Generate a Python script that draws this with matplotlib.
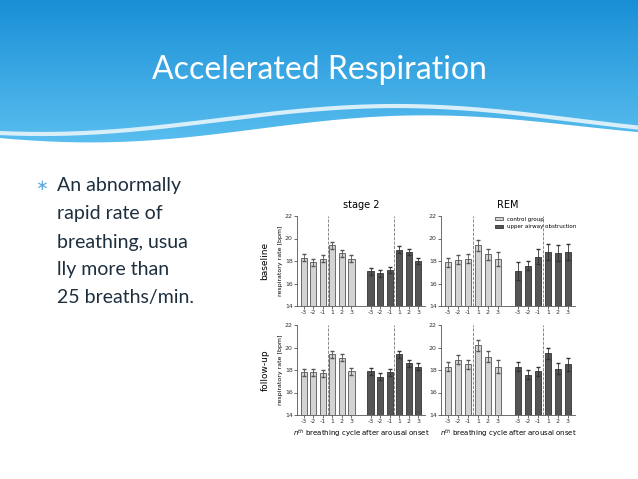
import matplotlib
matplotlib.use("Agg")
import matplotlib.pyplot as plt
import numpy as np

# ---- data (respiratory rate, bpm) ----
cycles = ["-3", "-2", "-1", "1", "2", "3"]
base_s2_ctrl = [18.3, 17.9, 18.2, 19.4, 18.7, 18.2]
base_s2_uao = [17.1, 16.9, 17.2, 19.0, 18.8, 18.0]
base_rem_ctrl = [17.9, 18.1, 18.2, 19.4, 18.6, 18.2]
base_rem_uao = [17.1, 17.6, 18.4, 18.8, 18.7, 18.8]
fu_s2_ctrl = [17.8, 17.8, 17.7, 19.4, 19.1, 17.9]
fu_s2_uao = [17.9, 17.4, 17.8, 19.4, 18.6, 18.3]
fu_rem_ctrl = [18.3, 18.9, 18.5, 20.2, 19.2, 18.3]
fu_rem_uao = [18.3, 17.6, 17.9, 19.5, 18.1, 18.5]
err_s2 = [0.3, 0.3, 0.3, 0.3, 0.3, 0.3]
err_rem_base_uao = [0.8, 0.4, 0.7, 0.7, 0.7, 0.7]
err_rem = [0.4, 0.4, 0.4, 0.5, 0.5, 0.6]

W, H = 638, 479
fig = plt.figure(figsize=(W / 100, H / 100), dpi=100)

# ---- slide background / header ----
bg = fig.add_axes([0, 0, 1, 1])
bg.set_xlim(0, W)
bg.set_ylim(H, 0)
bg.axis("off")
grad = np.linspace(0, 1, 100)[:, None]
cmap = matplotlib.colors.LinearSegmentedColormap.from_list("hdr", ["#1a8fd6", "#5cc0f0"])
bg.imshow(grad, extent=[0, W, 150, 0], cmap=cmap, aspect="auto", zorder=0)
xs = np.linspace(0, W, 200)
wave = 132 + 12 * np.sin((xs / W) * 2 * np.pi * 1.0 + 0.6) - 6 * (xs / W)
bg.fill_between(xs, wave, 160, color="white", zorder=1)
wave2 = 120 + 14 * np.sin((xs / W) * 2 * np.pi * 0.9 + 1.2)
bg.plot(xs, wave2, color="#d8eef9", lw=3, zorder=1)
bg.text(319, 70, "Accelerated Respiration", color="white", fontsize=23,
        ha="center", va="center", family="Lato")
bullet = ["An abnormally", "rapid rate of", "breathing, usua", "lly more than", "25 breaths/min."]
bg.text(35, 186, "\u2217", color="#5aa9d6", fontsize=11, va="center")
for i, line in enumerate(bullet):
    bg.text(57, 186 + i * 28, line, color="#1d2f3f", fontsize=14, va="center", family="Lato")

# ---- chart panels ----
def panel(rect, ctrl, uao, ectrl, euao, ylab=None, title=None, xlab=False, legend=False):
    ax = fig.add_axes([rect[0] / W, 1 - (rect[1] + rect[3]) / H, rect[2] / W, rect[3] / H])
    x1 = np.arange(6)
    x2 = np.arange(6) + 7
    ax.bar(x1, [v - 14 for v in ctrl], bottom=14, width=0.65, color="#d3d3d3",
           edgecolor="#555555", lw=0.6, yerr=ectrl, error_kw=dict(lw=0.6, capsize=1.5, ecolor="#555555"),
           label="control group")
    ax.bar(x2, [v - 14 for v in uao], bottom=14, width=0.65, color="#555555",
           edgecolor="#333333", lw=0.6, yerr=euao, error_kw=dict(lw=0.6, capsize=1.5, ecolor="#333333"),
           label="upper airway obstruction")
    for xv in (2.5, 9.5):
        ax.axvline(xv, color="#777777", lw=0.6, ls="--")
    ax.set_ylim(14, 22)
    ax.set_xlim(-0.7, 12.7)
    ax.set_yticks([14, 16, 18, 20, 22])
    ax.set_xticks(list(x1) + list(x2))
    ax.set_xticklabels(cycles + cycles)
    ax.tick_params(labelsize=4.5, length=2, width=0.5, pad=1, colors="#333333")
    for s in ("top", "right"):
        ax.spines[s].set_visible(False)
    for s in ("left", "bottom"):
        ax.spines[s].set_linewidth(0.6)
        ax.spines[s].set_color("#555555")
    ax.patch.set_alpha(0)
    if ylab:
        ax.set_ylabel("respiratory rate [bpm]", fontsize=4.5, labelpad=1)
        ax.text(-0.25, 0.5, ylab, transform=ax.transAxes, rotation=90, fontsize=6.5,
                ha="center", va="center")
    if title:
        ax.set_title(title, fontsize=7, pad=6)
    if xlab:
        ax.set_xlabel("$n^{th}$ breathing cycle after arousal onset", fontsize=5, labelpad=2)
    if legend:
        ax.legend(loc="upper right", fontsize=4, frameon=False, bbox_to_anchor=(1.05, 1.05),
                  handlelength=1.5, handleheight=0.6)
    return ax

panel((297, 216, 128, 90), base_s2_ctrl, base_s2_uao, err_s2, err_s2, ylab="baseline", title="stage 2")
panel((441, 216, 134, 90), base_rem_ctrl, base_rem_uao, err_rem, err_rem_base_uao, title="REM", legend=True)
panel((297, 325, 128, 90), fu_s2_ctrl, fu_s2_uao, err_s2, err_s2, ylab="follow-up", xlab=True)
panel((441, 325, 134, 90), fu_rem_ctrl, fu_rem_uao, err_rem, err_rem, xlab=True)

fig.savefig("out.png", dpi=100)
